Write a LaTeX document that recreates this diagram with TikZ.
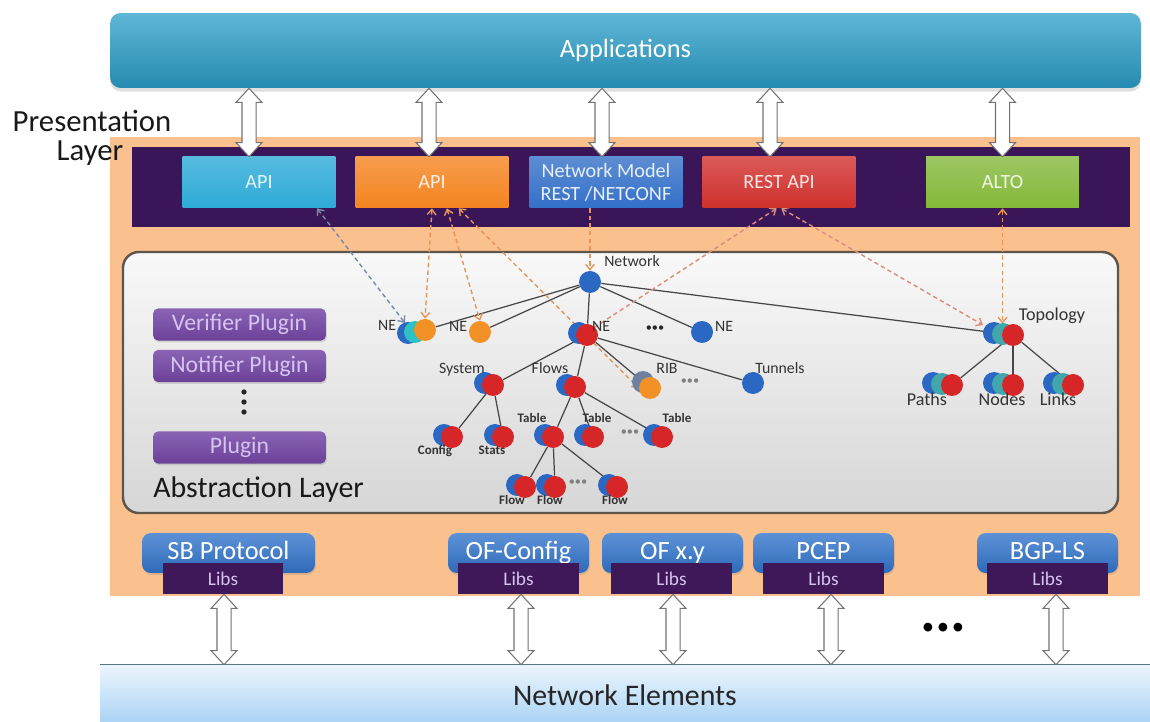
\documentclass[tikz,border=0pt]{standalone}
\usepackage{fontspec}
\setmainfont{Carlito}
\usetikzlibrary{calc,arrows.meta,shadows}

\definecolor{appteal}{RGB}{42,158,200}
\definecolor{peach}{RGB}{250,192,142}
\definecolor{banda}{RGB}{58,22,88}
\definecolor{apiteal}{RGB}{45,170,215}
\definecolor{apiorange}{RGB}{244,132,32}
\definecolor{modelblue}{RGB}{52,112,200}
\definecolor{restred}{RGB}{208,48,44}
\definecolor{altogreen}{RGB}{132,184,58}
\definecolor{plugviolet}{RGB}{118,72,168}
\definecolor{sbblue}{RGB}{52,118,205}
\definecolor{libsviolet}{RGB}{62,24,88}
\definecolor{libstext}{RGB}{215,195,240}
\definecolor{neblue}{RGB}{168,210,245}
\definecolor{nelinea}{RGB}{90,118,128}
\definecolor{absborde}{RGB}{95,85,75}
\definecolor{flecha}{RGB}{115,115,115}
\definecolor{bolaazul}{RGB}{42,104,196}
\definecolor{bolaroja}{RGB}{214,38,40}
\definecolor{bolanaranja}{RGB}{242,146,38}
\definecolor{bolaturquesa}{RGB}{64,168,170}
\definecolor{bolagris}{RGB}{110,128,160}
\definecolor{trazo}{RGB}{70,70,70}
\definecolor{trazonaranja}{RGB}{228,150,90}
\definecolor{trazoazul}{RGB}{120,140,170}
\definecolor{trazorosa}{RGB}{220,140,125}

\pgfdeclarelayer{fondo}
\pgfdeclarelayer{aristas}
\pgfsetlayers{fondo,aristas,main}

\begin{document}
\begin{tikzpicture}[x=0.02cm, y=-0.02cm,
    >={Straight Barb[length=3pt,width=5pt]},
    bloque/.style={draw=flecha, fill=white, line width=0.6pt, to path={
        let \p1=(\tikztostart), \p2=(\tikztotarget) in
        (\x1,\y1) -- (\x1+7.4pt,\y1-8pt) -- (\x1+4pt,\y1-8pt) -- (\x1+4pt,\y2+8pt)
        -- (\x1+7.4pt,\y2+8pt) -- (\x1,\y2) -- (\x1-7.4pt,\y2+8pt) -- (\x1-4pt,\y2+8pt)
        -- (\x1-4pt,\y1-8pt) -- (\x1-7.4pt,\y1-8pt) -- cycle}},
    capa/.style={font=\fontsize{17.5}{18}\selectfont, inner sep=0pt, text=black!90},
    pbox/.style={top color=#1!80!white, bottom color=#1, minimum width=3.06cm,
        minimum height=1.02cm, inner sep=1pt, align=center, text=#1!12!white,
        font=\fontsize{11.5}{13}\selectfont},
    plug/.style={rounded corners=3pt, minimum width=3.46cm, minimum height=0.62cm,
        top color=plugviolet!85!white, bottom color=plugviolet!90!black, text=libstext,
        font=\fontsize{13.5}{14}\selectfont,
        drop shadow={opacity=0.25, shadow xshift=0.5pt, shadow yshift=-1pt}},
    sb/.style={rounded corners=5pt, minimum width=#1, minimum height=0.8cm,
        top color=sbblue!80!white, bottom color=sbblue!90!black, text=white,
        font=\fontsize{15}{16}\selectfont, text height=0.34cm, text depth=0.06cm,
        drop shadow={opacity=0.25, shadow xshift=0.5pt, shadow yshift=-1pt}},
    libs/.style={fill=libsviolet, minimum width=2.42cm, minimum height=0.62cm,
        inner sep=0pt, text=libstext, font=\fontsize{11}{12}\selectfont},
    bola/.style={circle, inner sep=0pt, minimum size=0.44cm},
    azul/.style={bola, fill=bolaazul},
    naranja/.style={bola, fill=bolanaranja},
    roja/.style={bola, fill=bolaroja,
        preaction={fill=bolaazul, transform canvas={xshift=-0.16cm, yshift=0.04cm}}},
    ribbola/.style={bola, fill=bolanaranja,
        preaction={fill=bolagris, transform canvas={xshift=-0.14cm, yshift=0.12cm}}},
    necl/.style={bola, fill=bolanaranja,
        preaction={fill=bolaazul, transform canvas={xshift=-0.34cm, yshift=-0.06cm}},
        preaction={fill=bolaturquesa!70!cyan, transform canvas={xshift=-0.2cm, yshift=-0.04cm}}},
    tri/.style={bola, fill=bolaroja,
        preaction={fill=bolaazul, transform canvas={xshift=-0.38cm, yshift=0.04cm}},
        preaction={fill=bolaturquesa, transform canvas={xshift=-0.2cm, yshift=0.02cm}}},
    etq/.style={font=\fontsize{9}{10}\selectfont, text=black!80, inner sep=0pt,
        text height=5.8pt, text depth=0pt},
    etqg/.style={etq, font=\fontsize{10.3}{11}\selectfont, text height=6.6pt},
    etqp/.style={etq, font=\bfseries\fontsize{7.4}{8}\selectfont, text height=4.8pt},
    puntos/.style={inner sep=0pt, font=\fontsize{7}{7}\selectfont, text=#1},
    puntos/.default=black!85,
    arista/.style={draw=trazo, line width=0.7pt},
    enlace/.style={draw=trazonaranja, line width=0.8pt, dash pattern=on 2.5pt off 1.8pt}]

    \useasboundingbox (0,0) rectangle (1150,722);

    % Fondos
    \begin{pgfonlayer}{fondo}
        \fill[peach] (110,137) rectangle (1140,596);
        \fill[banda] (132,147) rectangle (1130,227);
        \path[draw=absborde, line width=1.4pt, rounded corners=9pt,
            top color=gray!5, bottom color=gray!32] (123,252) rectangle (1118,513);
    \end{pgfonlayer}

    % Aplicaciones
    \node[rounded corners=6pt, top color=appteal!75!white, bottom color=appteal!88!black,
        minimum width=20.62cm, minimum height=1.5cm, text=white,
        font=\fontsize{15}{16}\selectfont,
        drop shadow={opacity=0.25, shadow xshift=0pt, shadow yshift=-2pt}]
        (app) at (625.5,50.5) {Applications};

    % Capa de presentacion
    \node[capa, anchor=base] (pres) at (92,132) {Presentation};
    \node[capa, anchor=base, text height=0.42cm, text depth=0.1cm] (layer) at (90,161) {Layer};
    \node[pbox=apiteal] (api1) at (259,182.5) {API};
    \node[pbox=apiorange] (api2) at (432,182.5) {API};
    \node[pbox=modelblue] (model) at (606,182.5) {Network Model\\REST /NETCONF};
    \node[pbox=restred] (rest) at (779,182.5) {REST API};
    \node[pbox=altogreen] (alto) at (1002.5,182.5) {ALTO};

    \foreach \b/\dx in {api1/-10, api2/-3, model/-4, rest/-9, alto/0}
        \draw[bloque] ($(app.south -| \b.north)+(\dx,0)$) to ($(\b.north)+(\dx,0)$);

    % Plugins
    \node[plug] (verif) at (239.5,324.5) {Verifier Plugin};
    \node[plug] (notif) at (239.5,366) {Notifier Plugin};
    \node[plug] (plugin) at (239.5,447.5) {Plugin};
    \foreach \y in {392,402,412}
        \fill[black!85] (244,\y) circle (1.5pt);
    \node[capa, font=\fontsize{17}{18}\selectfont, anchor=base west] (abst) at (153,498)
        {Abstraction Layer};

    % Arbol del modelo
    \node[azul] (network) at (590,282) {};
    \node[necl] (ne1) at (425,330) {};
    \node[naranja] (ne2) at (480,332) {};
    \node[roja] (ne3) at (587,335) {};
    \node[azul] (ne4) at (702,332) {};
    \node[roja] (system) at (493,385) {};
    \node[roja] (flows) at (575,387) {};
    \node[ribbola] (rib) at (650,388) {};
    \node[azul] (tunnels) at (753,383) {};
    \node[roja] (config) at (452,437) {};
    \node[roja] (stats) at (503,437) {};
    \node[roja] (table1) at (553,437) {};
    \node[roja] (table2) at (593,437) {};
    \node[roja] (table3) at (662,437) {};
    \node[roja] (flow1) at (525,487) {};
    \node[roja] (flow2) at (555,487) {};
    \node[roja] (flow3) at (617,487) {};
    \node[tri] (topo) at (1013,335) {};
    \node[tri] (paths) at (952,385) {};
    \node[tri] (nodes) at (1013,385) {};
    \node[tri] (links) at (1073,385) {};

    \node[etq] (lnet) at (632,261) {Network};
    \node[etq] (lne1) at (387,325) {NE};
    \node[etq] (lne2) at (458,326) {NE};
    \node[etq] (lne3) at (601,326) {NE};
    \node[etq] (lne4) at (724,326) {NE};
    \node[etq] (lsys) at (462,368) {System};
    \node[etq] (lflows) at (550,368) {Flows};
    \node[etq] (lrib) at (667,368) {RIB};
    \node[etq] (ltun) at (780,368) {Tunnels};
    \node[etqp] (lconf) at (435,450) {Config};
    \node[etqp] (lstats) at (492,450) {Stats};
    \node[etqp] (ltab1) at (532,418) {Table};
    \node[etqp] (ltab2) at (597,418) {Table};
    \node[etqp] (ltab3) at (677,418) {Table};
    \node[etqp] (lflow1) at (512,500) {Flow};
    \node[etqp] (lflow2) at (550,500) {Flow};
    \node[etqp] (lflow3) at (615,500) {Flow};
    \node[etqg] (ltopo) at (1052,315) {Topology};
    \node[etqg] (lpaths) at (927,400) {Paths};
    \node[etqg] (lnodes) at (1002,400) {Nodes};
    \node[etqg] (llinks) at (1058,400) {Links};

    \node[puntos] (dne) at (655,329) {\textbullet\textbullet\textbullet};
    \node[puntos=gray] (drib) at (690,382) {\textbullet\textbullet\textbullet};
    \node[puntos=gray] (dtab) at (630,433) {\textbullet\textbullet\textbullet};
    \node[puntos=gray] (dflow) at (578,483) {\textbullet\textbullet\textbullet};

    % Aristas y enlaces
    \begin{pgfonlayer}{aristas}
        \foreach \a/\b in {network/ne1, network/ne2, network/ne3, network/ne4, network/topo,
            ne3/system, ne3/flows, ne3/rib, ne3/tunnels, system/config, system/stats,
            flows/table1, flows/table2, flows/table3, table1/flow1, table1/flow2,
            table1/flow3, topo/paths, topo/nodes, topo/links}
            \draw[arista] (\a) -- (\b);

        \draw[enlace, draw=trazoazul, <->] (api1.-24) -- ($(ne1)+(-20,-7)$);
        \draw[enlace, <->] (api2.south) -- (ne1.north);
        \draw[enlace, <->] (api2.-60) -- (ne2.north);
        \draw[enlace, <->] (api2.-44) -- (rib.west);
        \draw[enlace, ->] (model.south -| network.north) -- (network.north);
        \draw[enlace, draw=trazorosa, <-] (rest.-95) -- (ne3.north east);
        \draw[enlace, draw=trazorosa, <->] (rest.-85) -- ($(topo)+(-30,-10)$);
        \draw[enlace, <->] (alto.south) -- (alto.south |- topo.north);
    \end{pgfonlayer}

    % Protocolos
    \node[sb=3.46cm] (sbp) at (228.5,553) {SB Protocol};
    \node[sb=2.82cm] (ofc) at (518.5,553) {OF-Config};
    \node[sb=2.82cm] (ofxy) at (672.5,553) {OF x.y};
    \node[sb=2.82cm] (pcep) at (823.5,553) {PCEP};
    \node[sb=2.82cm] (bgp) at (1047.5,553) {BGP-LS};
    \foreach \n/\x in {sbp/223, ofc/518.5, ofxy/671.5, pcep/823.5, bgp/1047.5}
        \node[libs] (lib\n) at (\x,578.5) {Libs};

    % Elementos de red
    \node[top color=neblue!22!white, bottom color=neblue, minimum width=21cm,
        minimum height=1.2cm, inner sep=0pt, text=black!85,
        font=\fontsize{17}{18}\selectfont] (nebar) at (625,695) {Network Elements};
    \draw[draw=nelinea, line width=0.8pt] (nebar.north west) -- (nebar.north east);

    \foreach \n/\dx in {sbp/1, ofc/2.5, ofxy/1.5, pcep/7.5, bgp/8.5}
        \draw[bloque] ($(lib\n.south)+(\dx,0)$) to ($(lib\n.south |- nebar.north)+(\dx,0)$);
    \node[font=\fontsize{14}{14}\selectfont] (mas) at (943,629)
        {\textbullet\hspace{1.5pt}\textbullet\hspace{1.5pt}\textbullet};

\end{tikzpicture}
\end{document}
